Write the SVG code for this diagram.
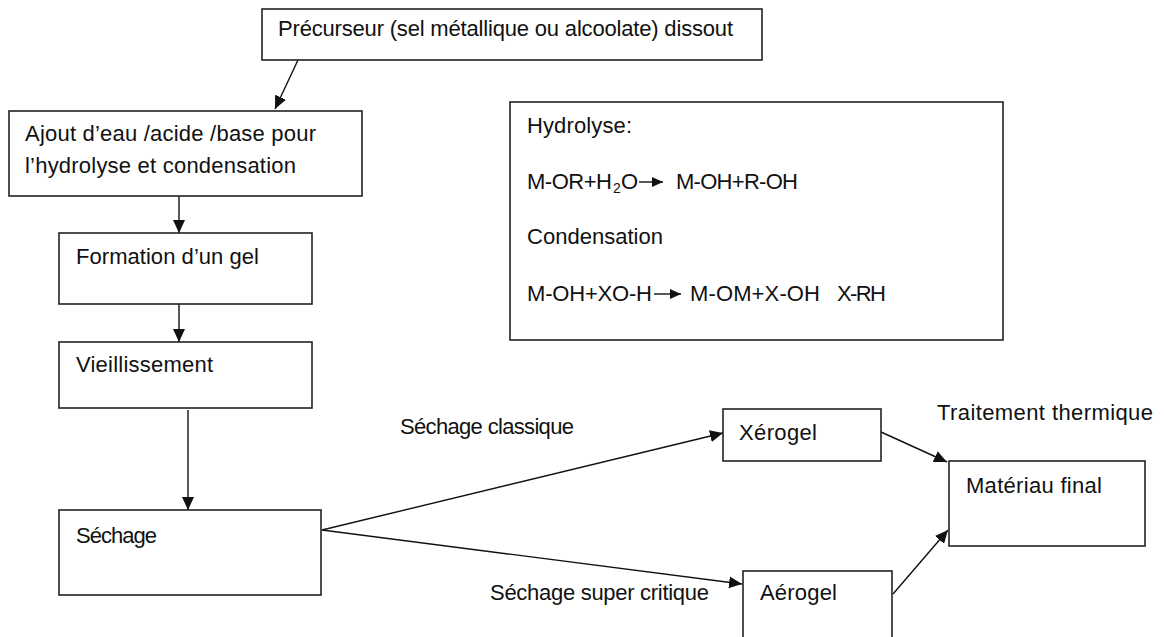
<svg xmlns="http://www.w3.org/2000/svg" width="1164" height="637" viewBox="0 0 1164 637">
<style>
.box{fill:#fff;stroke:#222;stroke-width:1.6}
.t{font-family:"Liberation Sans",Arial,sans-serif;font-size:22px;fill:#111}
.sub{font-size:14px}
.c{stroke:#111;stroke-width:1.4;fill:none;marker-end:url(#ah)}
.f{stroke:#111;stroke-width:1.4;fill:none;marker-end:url(#ahs)}
</style>
<defs>
<marker id="ah" markerUnits="userSpaceOnUse" markerWidth="14" markerHeight="12" refX="13" refY="6" orient="auto">
<path d="M0,0 L13,6 L0,12 z" fill="#111"/>
</marker>
<marker id="ahs" markerUnits="userSpaceOnUse" markerWidth="12" markerHeight="10" refX="11" refY="5" orient="auto">
<path d="M0,0 L11,5 L0,10 z" fill="#111"/>
</marker>
</defs>
<rect width="1164" height="637" fill="#fff"/>

<g id="connectors">
<line class="c" x1="298" y1="60" x2="275" y2="109"/>
<line class="c" x1="179" y1="196" x2="179" y2="233"/>
<line class="c" x1="179" y1="304" x2="179" y2="342"/>
<line class="c" x1="188" y1="410" x2="188" y2="510"/>
<line class="c" x1="322" y1="530" x2="723" y2="433"/>
<line class="c" x1="322" y1="530" x2="742" y2="584"/>
<line class="c" x1="881" y1="432" x2="947" y2="462"/>
<line class="c" x1="893" y1="594" x2="948" y2="530"/>
</g>

<g id="precurseur">
<rect class="box" x="262" y="9" width="500" height="51"/>
<text class="t" x="278" y="36" textLength="455">Précurseur (sel métallique ou alcoolate) dissout</text>
</g>

<g id="ajout">
<rect class="box" x="9" y="111" width="353" height="85"/>
<text class="t" x="25" y="141" textLength="291">Ajout d’eau /acide /base pour</text>
<text class="t" x="25" y="173" textLength="271">l’hydrolyse et condensation</text>
</g>

<g id="formation">
<rect class="box" x="59" y="233" width="253" height="71"/>
<text class="t" x="76" y="264" textLength="183">Formation d’un gel</text>
</g>

<g id="vieillissement">
<rect class="box" x="59" y="342" width="253" height="66"/>
<text class="t" x="76" y="372" textLength="137">Vieillissement</text>
</g>

<g id="sechage">
<rect class="box" x="59" y="510" width="262" height="85"/>
<text class="t" x="76" y="543" textLength="81">Séchage</text>
</g>

<g id="reactions">
<rect class="box" x="510" y="102" width="493" height="238"/>
<text class="t" x="527" y="133" textLength="105">Hydrolyse:</text>
<text class="t" x="527" y="189" textLength="85">M-OR+H</text>
<text class="t sub" x="613" y="193">2</text>
<text class="t" x="621" y="189">O</text>
<line class="f" x1="639" y1="182" x2="663" y2="182"/>
<text class="t" x="676" y="189" textLength="122">M-OH+R-OH</text>
<text class="t" x="527" y="244" textLength="136">Condensation</text>
<text class="t" x="527" y="301" textLength="125">M-OH+XO-H</text>
<line class="f" x1="654" y1="294" x2="681" y2="294"/>
<text class="t" x="690" y="301" textLength="130">M-OM+X-OH</text>
<text class="t" x="837" y="301" textLength="49">X-RH</text>
</g>

<g id="labels">
<text class="t" x="400" y="434" textLength="174">Séchage classique</text>
<text class="t" x="490" y="600" textLength="219">Séchage super critique</text>
<text class="t" x="937" y="420" textLength="216">Traitement thermique</text>
</g>

<g id="xerogel">
<rect class="box" x="723" y="409" width="158" height="52"/>
<text class="t" x="739" y="440" textLength="78">Xérogel</text>
</g>

<g id="aerogel">
<rect class="box" x="743" y="571" width="149" height="75"/>
<text class="t" x="760" y="600" textLength="77">Aérogel</text>
</g>

<g id="materiau">
<rect class="box" x="949" y="461" width="196" height="85"/>
<text class="t" x="966" y="493" textLength="136">Matériau final</text>
</g>
</svg>
